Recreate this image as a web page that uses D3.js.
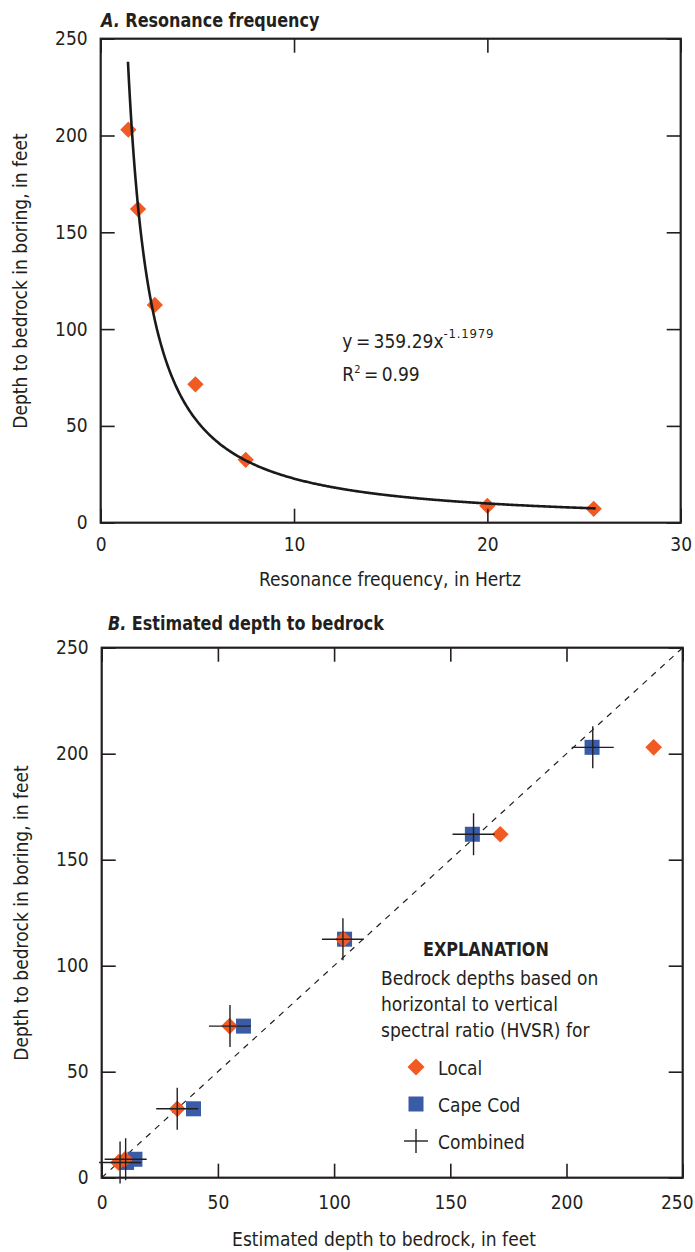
<!DOCTYPE html>
<html>
<head>
<meta charset="utf-8">
<script src="https://cdn.jsdelivr.net/npm/d3@7"></script>
<style>
  body { margin: 0; background: #fff; }
  svg text { font-family: "Liberation Sans Narrow", "DejaVu Sans Condensed", "Arial Narrow", sans-serif; fill: #231f20; }
</style>
</head>
<body>
<div id="chart"></div>
<script>
// data
const freq = [1.43, 1.93, 2.8, 4.9, 7.5, 20, 25.5];           // resonance frequency, Hz
const boringDepth = [203, 162, 112.5, 71.5, 32.5, 8.7, 7.2];  // depth in boring, ft
const localEst = [237.5, 171.5, 104, 55, 32.5, 10, 7.2];      // HVSR local estimate
const capeCodEst = [211, 159.5, 104.5, 61, 39.5, 14.3, 10.7]; // HVSR Cape Cod estimate
const combinedEst = [211.3, 160, 103.8, 55.2, 32.5, 10.3, 7.9];
// fitted power curve printed on panel A
const fitA = 359.29, fitB = -1.1979;
const fitRange = [1.41, 25.6];

const xTicksA = [0, 10, 20, 30];
const yTicks = [0, 50, 100, 150, 200, 250];
const xTicksB = [0, 50, 100, 150, 200, 250];
const legendLabels = ["Local", "Cape Cod", "Combined"];

const ORANGE = "#f15a22", BLUE = "#3a5ba6", INK = "#231f20";

const svg = d3.select("#chart").append("svg")
    .attr("width", 695)
    .attr("height", 1252);

// draws a framed box with inward ticks on all four sides
function drawFrame(g, x, y, xMinor, xMajor, yMinor, yMajor, xLabels, xPad) {
    let w = x.range()[1] - x.range()[0];
    let h = y.range()[0] - y.range()[1];
    let sides = [
        {axis: d3.axisBottom, scale: x, t: "translate(0," + h + ")", minor: xMinor, major: xMajor, lab: xLabels, pad: xPad, cls: "xlab"},
        {axis: d3.axisTop, scale: x, t: "translate(0,0)", minor: xMinor, major: xMajor},
        {axis: d3.axisLeft, scale: y, t: "translate(0,0)", minor: yMinor, major: yMajor, lab: yTicks, pad: 13, cls: "ylab"},
        {axis: d3.axisRight, scale: y, t: "translate(" + w + ",0)", minor: yMinor, major: yMajor}
    ];
    sides.forEach(s => {
        let a = g.append("g").attr("transform", s.t);
        a.call(s.axis(s.scale).tickValues(s.minor).tickSize(-7).tickFormat(""));
        a.call(s.axis(s.scale).tickValues(s.major).tickSize(-14).tickFormat(""));
        a.selectAll(".domain").remove();
        a.selectAll("line").attr("stroke", INK).attr("stroke-width", 1.6);
        if (s.lab) {
            let l = g.append("g").attr("class", s.cls).attr("transform", s.t)
                .call(s.axis(s.scale).tickValues(s.lab).tickSize(0).tickPadding(s.pad).tickFormat(d3.format("d")));
            l.selectAll(".domain").remove();
            l.selectAll("text").attr("font-size", 19).attr("fill", INK);
            l.attr("font-family", null);
        }
    });
    g.append("rect")
        .attr("width", w).attr("height", h)
        .attr("fill", "none").attr("stroke", INK).attr("stroke-width", 2.2);
}

function diamond(sel, side) {
    return sel.append("rect")
        .attr("x", -side / 2).attr("y", -side / 2)
        .attr("width", side).attr("height", side)
        .attr("transform", "rotate(45)")
        .attr("fill", ORANGE);
}

function title(x, y, letter, words) {
    svg.append("text")
        .attr("transform", "translate(" + x + "," + y + ") scale(0.89,1)")
        .attr("font-size", 20).attr("font-weight", "bold")
        .html('<tspan font-style="italic">' + letter + '</tspan>  ' + words);
}

// ---------- Panel A ----------
let xA = d3.scaleLinear().domain([0, 30]).range([0, 580]);
let yA = d3.scaleLinear().domain([0, 250]).range([484, 0]);
let gA = svg.append("g").attr("transform", "translate(100.7,38.7)");

title(101, 26.5, "A.", "Resonance frequency");

gA.append("g").attr("class", "points")
    .selectAll("g").data(freq).enter().append("g")
    .attr("transform", (d, i) => "translate(" + xA(d) + "," + yA(boringDepth[i]) + ")")
    .each(function () { diamond(d3.select(this), 11.5); });

let curveX = d3.range(fitRange[0], fitRange[1], 0.05).concat([fitRange[1]]);
gA.append("path")
    .datum(curveX)
    .attr("fill", "none")
    .attr("stroke", "#1a1a1a")
    .attr("stroke-width", 2.6)
    .attr("d", d3.line().x(d => xA(d)).y(d => yA(fitA * Math.pow(d, fitB))));

drawFrame(gA, xA, yA, d3.range(0, 31, 2), xTicksA, d3.range(0, 251, 10), yTicks, xTicksA, 15);

gA.append("text").attr("x", xA(12.5)).attr("y", 309.6).attr("font-size", 19)
    .html('y\u2009=\u2009359.29x<tspan dy="-10" font-size="13" letter-spacing="0.8">-1.1979</tspan>');
gA.append("text").attr("x", xA(12.5)).attr("y", 342.3).attr("font-size", 19)
    .html('R<tspan dy="-8" font-size="11">2</tspan><tspan dy="8">\u2009=\u20090.99</tspan>');

svg.append("text").attr("x", 390).attr("y", 586).attr("text-anchor", "middle").attr("font-size", 19)
    .text("Resonance frequency, in Hertz");
svg.append("text").attr("transform", "translate(27,281) rotate(-90)").attr("text-anchor", "middle").attr("font-size", 19)
    .text("Depth to bedrock in boring, in feet");

// ---------- Panel B ----------
let xB = d3.scaleLinear().domain([0, 250]).range([0, 581]);
let yB = d3.scaleLinear().domain([0, 250]).range([530, 0]);
let gB = svg.append("g").attr("transform", "translate(101.7,647.7)");

title(108, 630, "B.", "Estimated depth to bedrock");

drawFrame(gB, xB, yB, d3.range(0, 251, 10), xTicksB, d3.range(0, 251, 10), yTicks, xTicksB, 18);
// the last label sits against the page edge
gB.selectAll(".xlab .tick").filter(d => d === 250).select("text").attr("dx", -6);

gB.append("path")
    .datum([0, 250])
    .attr("fill", "none").attr("stroke", INK).attr("stroke-width", 1.2)
    .attr("stroke-dasharray", "6,6")
    .attr("d", d3.line().x(d => xB(d)).y(d => yB(d)));

gB.append("g").selectAll("rect").data(capeCodEst).enter().append("rect")
    .attr("x", d => xB(d) - 7.5)
    .attr("y", (d, i) => yB(boringDepth[i]) - 7.5)
    .attr("width", 15).attr("height", 15)
    .attr("fill", BLUE);

gB.append("g").selectAll("g").data(localEst).enter().append("g")
    .attr("transform", (d, i) => "translate(" + xB(d) + "," + yB(boringDepth[i]) + ")")
    .each(function () { diamond(d3.select(this), 11.8); });

let crosses = gB.append("g").selectAll("g").data(combinedEst).enter().append("g")
    .attr("transform", (d, i) => "translate(" + xB(d) + "," + yB(boringDepth[i]) + ")");
crosses.append("line").attr("x1", -21).attr("x2", 21).attr("stroke", INK).attr("stroke-width", 1.4);
crosses.append("line").attr("y1", -21).attr("y2", 21).attr("stroke", INK).attr("stroke-width", 1.4);

// legend
let leg = svg.append("g");
leg.append("text").attr("transform", "translate(423,956) scale(0.89,1)")
    .attr("font-size", 20).attr("font-weight", "bold").text("EXPLANATION");
["Bedrock depths based on", "horizontal to vertical", "spectral ratio (HVSR) for"].forEach((t, i) => {
    leg.append("text").attr("x", 381).attr("y", 985 + i * 25.8).attr("font-size", 19).text(t);
});
let items = leg.selectAll("g.item").data(legendLabels).enter().append("g")
    .attr("class", "item")
    .attr("transform", (d, i) => "translate(416," + (1067 + i * 37) + ")");
items.append("text").attr("x", 22).attr("y", 8).attr("font-size", 19).text(d => d);
items.each(function (d, i) {
    let s = d3.select(this);
    if (i === 0) diamond(s, 12);
    if (i === 1) s.append("rect").attr("x", -7.5).attr("y", -7.5).attr("width", 15).attr("height", 15).attr("fill", BLUE);
    if (i === 2) {
        s.append("line").attr("x1", -12).attr("x2", 12).attr("stroke", INK).attr("stroke-width", 1.4);
        s.append("line").attr("y1", -12).attr("y2", 12).attr("stroke", INK).attr("stroke-width", 1.4);
    }
});

svg.append("text").attr("x", 384).attr("y", 1246).attr("text-anchor", "middle").attr("font-size", 19)
    .text("Estimated depth to bedrock, in feet");
svg.append("text").attr("transform", "translate(28,913) rotate(-90)").attr("text-anchor", "middle").attr("font-size", 19)
    .text("Depth to bedrock in boring, in feet");
</script>
</body>
</html>
